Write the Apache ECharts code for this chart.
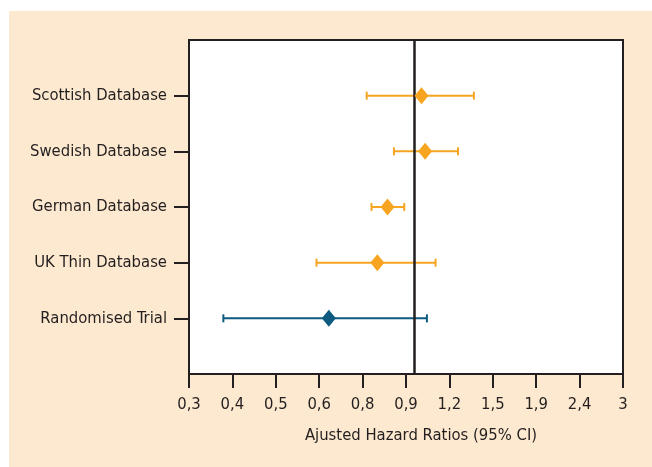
<!DOCTYPE html>
<html>
<head>
<meta charset="utf-8">
<script src="https://cdn.jsdelivr.net/npm/echarts@6/dist/echarts.min.js"></script>
<style>
html,body{margin:0;padding:0;background:#fff;}
#chart{width:652px;height:467px;}
</style>
</head>
<body>
<div id="chart"></div>
<script>
// ---- data ----
const categories = ['Scottish Database', 'Swedish Database', 'German Database', 'UK Thin Database', 'Randomised Trial'];
const hazardRatio = [1.03, 1.05, 0.86, 0.815, 0.63];
const lowerCI = [0.77, 0.89, 0.79, 0.59, 0.36];
const upperCI = [1.36, 1.25, 0.94, 1.11, 1.06];
const groupColor = ['#f7a521', '#f7a521', '#f7a521', '#f7a521', '#0e5a80'];
const xTickLabels = ['0,3', '0,4', '0,5', '0,6', '0,8', '0,9', '1,2', '1,5', '1,9', '2,4', '3'];
const axisMin = 0.3, axisMax = 3, referenceValue = 1;
const xTitle = 'Ajusted Hazard Ratios (95% CI)';

// ---- build ----
const FONT = '"Liberation Sans Narrow", "DejaVu Sans Condensed", "Arial Narrow", sans-serif';
const FS = 16.5;
const toAxis = v => Math.log10(v / axisMin);
const yCats = [''].concat(categories, ['']);

const pointData = categories.map((c, i) => ({
  value: [toAxis(hazardRatio[i]), i + 1],
  itemStyle: { color: groupColor[i], opacity: 1 }
}));
const barData = categories.map((c, i) => [toAxis(lowerCI[i]), toAxis(upperCI[i]), i + 1, i]);

const chart = echarts.init(document.getElementById('chart'), null, { renderer: 'canvas' });
chart.setOption({
  animation: false,
  backgroundColor: '#ffffff',
  graphic: [
    { type: 'rect', z: -10, shape: { x: 9, y: 11, width: 643, height: 456 }, style: { fill: '#fde9cf' } },
    { type: 'text', z: 10, x: 421, y: 436, style: { text: xTitle, textAlign: 'center', textVerticalAlign: 'middle', font: FS + 'px ' + FONT, fill: '#231f20' } }
  ],
  grid: {
    left: 189, right: 29, top: 40, bottom: 93,
    show: true, backgroundColor: '#ffffff', borderColor: '#231f20', borderWidth: 2
  },
  xAxis: {
    type: 'value', min: 0, max: toAxis(axisMax), interval: 0.1,
    axisLine: { show: true, lineStyle: { color: '#231f20', width: 2 } },
    axisTick: { show: true, inside: false, length: 14, lineStyle: { color: '#231f20', width: 2 } },
    axisLabel: {
      margin: 22, color: '#231f20', fontSize: FS, fontFamily: FONT,
      formatter: (v) => xTickLabels[Math.round(v * 10)] !== undefined ? xTickLabels[Math.round(v * 10)] : ''
    },
    splitLine: { show: false }
  },
  yAxis: {
    type: 'category', data: yCats, inverse: true, boundaryGap: false,
    axisLine: { show: true, lineStyle: { color: '#231f20', width: 2 } },
    axisTick: { show: true, inside: false, length: 15, interval: (i, v) => v !== '', lineStyle: { color: '#231f20', width: 2 } },
    axisLabel: { margin: 22, color: '#231f20', fontSize: FS, fontFamily: FONT, interval: 0 },
    splitLine: { show: false }
  },
  series: [
    {
      type: 'custom',
      data: barData,
      z: 2,
      renderItem: (params, api) => {
        const a = api.coord([api.value(0), api.value(2)]);
        const b = api.coord([api.value(1), api.value(2)]);
        const col = groupColor[api.value(3)];
        const h = 4;
        const st = { stroke: col, lineWidth: 2 };
        return {
          type: 'group',
          children: [
            { type: 'line', shape: { x1: a[0], y1: a[1], x2: b[0], y2: b[1] }, style: st },
            { type: 'line', shape: { x1: a[0], y1: a[1] - h, x2: a[0], y2: a[1] + h }, style: st },
            { type: 'line', shape: { x1: b[0], y1: b[1] - h, x2: b[0], y2: b[1] + h }, style: st }
          ]
        };
      }
    },
    {
      type: 'scatter',
      data: pointData,
      symbol: 'diamond',
      symbolSize: [14, 17],
      itemStyle: { opacity: 1 },
      z: 5,
      markLine: {
        silent: true, symbol: 'none', label: { show: false },
        lineStyle: { color: '#231f20', width: 2.5, type: 'solid' },
        data: [{ xAxis: toAxis(referenceValue) }]
      }
    }
  ]
});
</script>
</body>
</html>
